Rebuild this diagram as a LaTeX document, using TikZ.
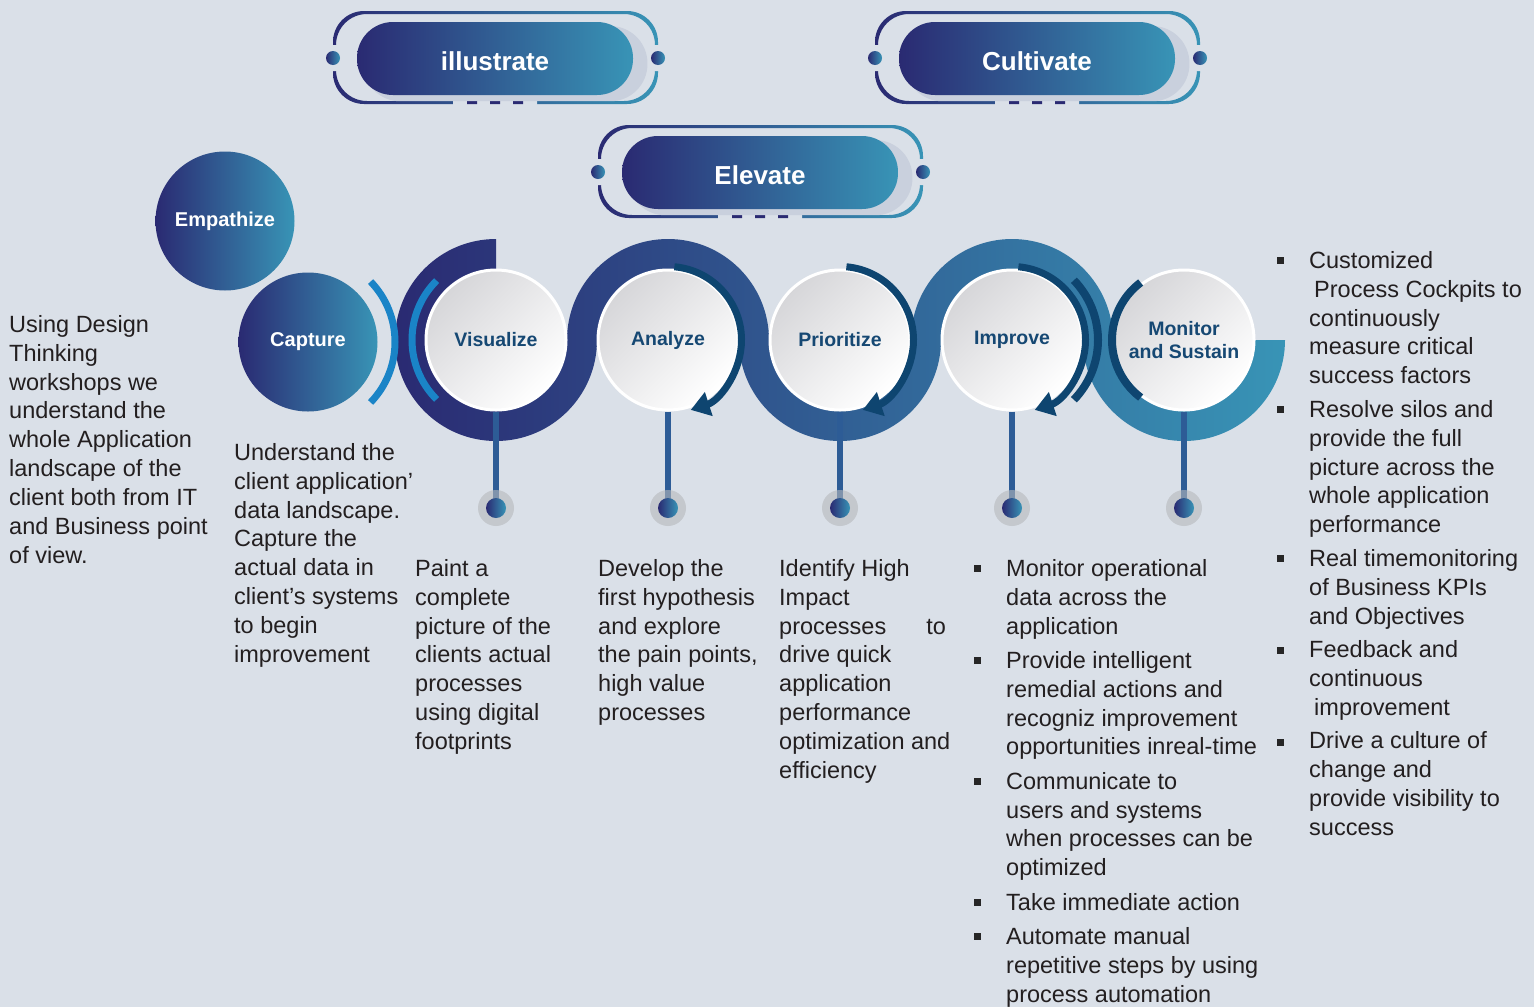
\documentclass[tikz,border=0pt]{standalone}
\usepackage{fontspec}
\setmainfont{Liberation Sans}
\usetikzlibrary{arrows.meta,shadows}

\definecolor{bgcol}{RGB}{218,224,232}
\definecolor{navy}{RGB}{42,42,114}
\definecolor{teal}{RGB}{56,148,182}
\definecolor{txtcol}{RGB}{35,31,32}
\definecolor{lblcol}{RGB}{22,72,115}
\definecolor{arrcol}{RGB}{14,69,112}
\definecolor{ltblue}{RGB}{26,132,199}
\definecolor{shadowcol}{RGB}{201,208,221}
\definecolor{halocol}{RGB}{182,185,188}
\definecolor{pincol}{RGB}{45,92,150}
\definecolor{wlight}{RGB}{214,214,217}

\tikzset{
  txt/.style={font=\fontsize{23.5}{28.9}\selectfont, text=txtcol, align=left,
    anchor=north west, inner sep=0pt},
  sq/.style={fill=black!85, minimum size=7pt, inner sep=0pt},
  gcirc/.style={circle, minimum size=139pt, inner sep=0pt, left color=navy,
    right color=teal, text=white, font=\fontsize{20}{24}\selectfont\bfseries},
  wcirc/.style={circle, minimum size=140pt, inner sep=0pt, draw=white, line width=3pt,
    top color=wlight, bottom color=white, shading angle=45, text=lblcol,
    align=center, font=\fontsize{19.5}{23}\selectfont\bfseries},
  pill/.style={rounded corners=36pt, minimum width=276pt, minimum height=73pt,
    left color=navy, right color=teal, text=white, text height=23pt, text depth=0pt,
    font=\fontsize{26}{30}\selectfont\bfseries,
    drop shadow={shadow xshift=10pt, shadow yshift=-5pt, shadow scale=1.03,
      opacity=1, fill=shadowcol}},
  arrowarc/.style={arrcol, line width=7pt, -{Triangle[width=24pt,length=19pt]}}
}

\begin{document}
\begin{tikzpicture}[x=1pt, y=-1pt]
  \fill[bgcol] (0,0) rectangle (1534,1007);
  \useasboundingbox (0,0) rectangle (1534,1007);

  % top pills
  \foreach \px/\py/\nm/\lbl in {0/0/ill/illustrate, 542/0/cul/Cultivate, 265/114/ele/Elevate}{
    \begin{scope}[shift={(\px,\py)}]
      \shade[left color=navy, right color=teal, even odd rule, rounded corners=31pt]
        (333,11) rectangle (658,104) (336,14) rectangle (655,101);
      \fill[bgcol] (328,45) rectangle (341,71) (650,45) rectangle (663,71)
        (453,98) rectangle (537,107);
      \fill[navy] (467,101) rectangle (477,104) (490,101) rectangle (500,104)
        (513,101) rectangle (523,104);
      \shade[left color=navy, right color=teal] (333,58) circle (7);
      \shade[left color=navy, right color=teal] (658,58) circle (7);
      \node[pill] (\nm) at (495,58.5) {\lbl};
    \end{scope}
  }

  % snake band
  \shade[left color=navy, right color=teal]
    (496,340) ++(270:101) arc[start angle=270, end angle=0, radius=101]
      -- ++(0:-30) arc[start angle=0, end angle=270, radius=71] -- cycle
    (668,340) ++(180:101) arc[start angle=180, end angle=360, radius=101]
      -- ++(0:-30) arc[start angle=360, end angle=180, radius=71] -- cycle
    (840,340) ++(180:101) arc[start angle=180, end angle=0, radius=101]
      -- ++(0:-30) arc[start angle=0, end angle=180, radius=71] -- cycle
    (1012,340) ++(180:101) arc[start angle=180, end angle=360, radius=101]
      -- ++(0:-30) arc[start angle=360, end angle=180, radius=71] -- cycle
    (1184,340) ++(180:101) arc[start angle=180, end angle=0, radius=101]
      -- ++(0:-30) arc[start angle=0, end angle=180, radius=71] -- cycle;

  \draw[ltblue, line width=7pt] (308,342) ++(-44:87) arc[start angle=-44, end angle=44, radius=87];
  \draw[ltblue, line width=7pt] (496,340) ++(135:84) arc[start angle=135, end angle=225, radius=84];

  % circles
  \node[gcirc] (emp) at (225,221) {Empathize};
  \node[gcirc] (cap) at (308,342) {Capture};
  \node[wcirc] (vis) at (496,340) {Visualize};
  \node[wcirc] (ana) at (668,340) {Analyze};
  \node[wcirc] (pri) at (840,340) {Prioritize};
  \node[wcirc] (imp) at (1012,340) {Improve};
  \node[wcirc] (mon) at (1184,340) {Monitor\\and Sustain};

  % pins
  \foreach \n in {vis,ana,pri,imp,mon}{
    \coordinate (\n-pin) at (\n |- 0,508);
    \draw[pincol, line width=6pt] (\n.south) -- (\n-pin);
    \fill[halocol, opacity=.6] (\n-pin) circle (18);
    \shade[left color=navy, right color=teal] (\n-pin) circle (10);
  }

  % arrows
  \foreach \c in {668,840,1012}
    \draw[arrowarc] (\c,340) ++(275:73.5) arc[start angle=275, end angle=432, radius=73.5];
  \draw[arrcol, line width=8pt] (1012,340) ++(-44:86) arc[start angle=-44, end angle=44, radius=86];
  \draw[arrcol, line width=8pt] (1184,340) ++(127:72) arc[start angle=127, end angle=233, radius=72];

  % texts
  \node[txt] (txt-emp) at (9,315) {Using Design\\Thinking\\workshops we\\understand the\\whole Application\\landscape of the\\client both from IT\\and Business point\\of view.};
  \node[txt] (txt-cap) at (234,443) {Understand the\\client application’\\data landscape.\\Capture the\\actual data in\\client’s systems\\to begin\\improvement};
  \node[txt] (txt-vis) at (415,559) {Paint a\\complete\\picture of the\\clients actual\\processes\\using digital\\footprints};
  \node[txt] (txt-ana) at (598,559) {Develop the\\first hypothesis\\and explore\\the pain points,\\high value\\processes};
  \node[txt] (txt-pri) at (779,559) {Identify High\\Impact\\processes\hspace{40pt}to\\drive quick\\application\\performance\\optimization and\\efficiency};
  \node[txt] (txt-imp) at (1006,559) {Monitor operational\\data across the\\application\\[5.3pt]Provide intelligent\\remedial actions and\\recogniz improvement\\opportunities inreal-time\\[5.3pt]Communicate to\\users and systems\\when processes can be\\optimized\\[5.3pt]Take immediate action\\[5.3pt]Automate manual\\repetitive steps by using\\process automation};
  \node[txt] (txt-mon) at (1309,251) {Customized\\\hspace{5pt}Process Cockpits to\\continuously\\measure critical\\success factors\\[4.5pt]Resolve silos and\\provide the full\\picture across the\\whole application\\performance\\[4.5pt]Real timemonitoring\\of Business KPIs\\and Objectives\\[4.5pt]Feedback and\\continuous\\\hspace{5pt}improvement\\[4.5pt]Drive a culture of\\change and\\provide visibility to\\success};

  \foreach \y [count=\i] in {568,660.2,781.3,902.4,936.8}
    \node[sq] (bi\i) at (977,\y) {};
  \foreach \y [count=\i] in {260,409,558,650,742}
    \node[sq] (bm\i) at (1280,\y) {};
\end{tikzpicture}
\end{document}
